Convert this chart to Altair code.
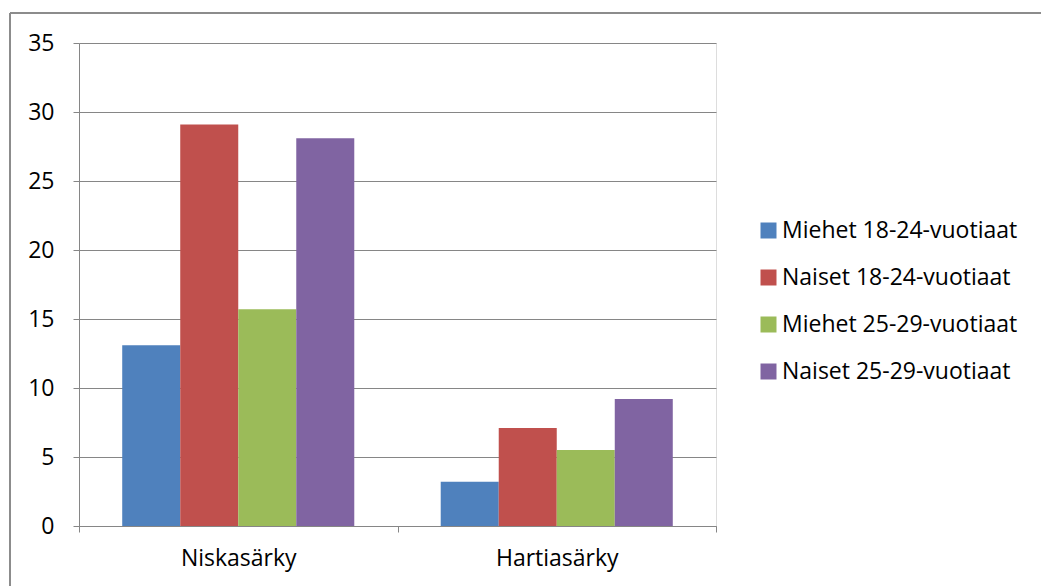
import altair as alt
import pandas as pd

categories = ["Niskasärky", "Hartiasärky"]
series = ["Miehet 18-24-vuotiaat", "Naiset 18-24-vuotiaat",
          "Miehet 25-29-vuotiaat", "Naiset 25-29-vuotiaat"]
values = {
    "Miehet 18-24-vuotiaat": [13.1, 3.2],
    "Naiset 18-24-vuotiaat": [29.1, 7.1],
    "Miehet 25-29-vuotiaat": [15.7, 5.5],
    "Naiset 25-29-vuotiaat": [28.1, 9.2],
}
colors = ["#4F81BD", "#C0504D", "#9BBB59", "#8064A2"]
y_ticks = [0, 5, 10, 15, 20, 25, 30, 35]

rows = []
for s in series:
    for c, v in zip(categories, values[s]):
        rows.append({"cat": c, "series": s, "value": v})
df = pd.DataFrame(rows)

FONT = "Open Sans"
GRAY = "#868686"
FS = 23

bars = alt.Chart(df).mark_bar().encode(
    x=alt.X("cat:N", sort=categories, title=None,
            scale=alt.Scale(paddingInner=0, paddingOuter=0),
            axis=alt.Axis(labelAngle=0, tickBand="extent", domainColor=GRAY,
                          tickColor=GRAY, tickSize=6, labelPadding=15,
                          labelFontSize=FS, labelFont=FONT, labelColor="#000000",
                          grid=False)),
    xOffset=alt.XOffset("series:N", sort=series,
                        scale=alt.Scale(paddingInner=0, paddingOuter=0.745)),
    y=alt.Y("value:Q", title=None,
            scale=alt.Scale(domain=[0, 35], nice=False),
            axis=alt.Axis(values=y_ticks, domainColor=GRAY, tickColor=GRAY,
                          tickSize=6, labelPadding=19, gridColor=GRAY,
                          gridOpacity=1, labelFontSize=FS, labelFont=FONT,
                          labelColor="#000000")),
    color=alt.Color("series:N", sort=series,
                    scale=alt.Scale(domain=series, range=colors),
                    legend=alt.Legend(title=None, orient="none",
                                      legendX=678, legendY=176,
                                      symbolType="square", symbolSize=256,
                                      symbolStrokeWidth=0, symbolOpacity=1,
                                      labelFontSize=FS, labelFont=FONT,
                                      labelColor="#000000", rowPadding=23,
                                      labelOffset=2, labelLimit=0)),
)

frame_left = alt.Chart(df).mark_rule(color="#8c8c8c", strokeWidth=1.5).encode(
    x=alt.value(-69), y=alt.value(-30), y2=alt.value(560))
frame_top = alt.Chart(df).mark_rule(color="#8c8c8c", strokeWidth=1.5).encode(
    x=alt.value(-69), x2=alt.value(980), y=alt.value(-30))

chart = alt.layer(bars, frame_left, frame_top).properties(
    width=637, height=483,
    autosize=alt.AutoSizeParams(type="none"),
    padding={"left": 79, "top": 43, "right": 325, "bottom": 60},
).configure_view(stroke=None).configure(background="white")

chart.save("out.html", embed_options={"renderer": "svg", "actions": False})
